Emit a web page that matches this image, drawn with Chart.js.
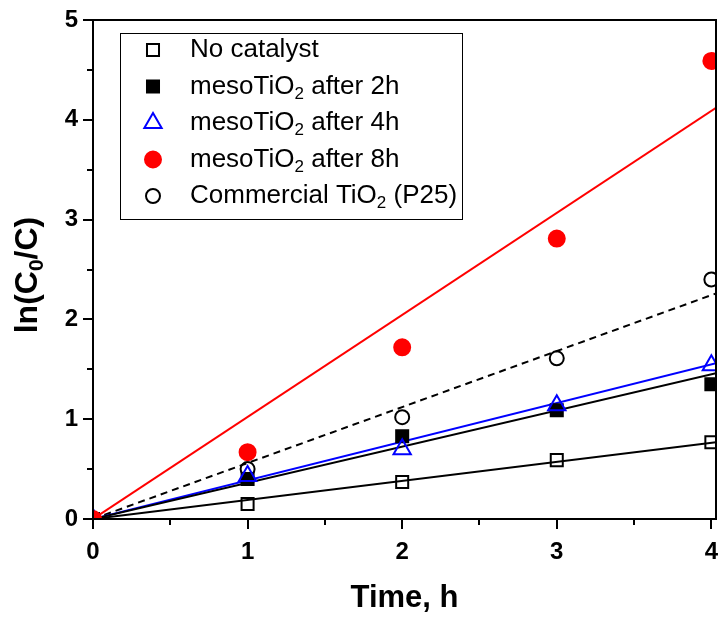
<!DOCTYPE html>
<html>
<head>
<meta charset="utf-8">
<script src="https://cdn.jsdelivr.net/npm/chart.js@4.4.1/dist/chart.umd.min.js"></script>
<style>
  html, body { margin: 0; padding: 0; background: #fff; }
  #wrap { width: 720px; height: 618px; }
</style>
</head>
<body>
<div id="wrap"><canvas id="kinetics" width="720" height="618"></canvas></div>
<script>
// measured ln(C0/C) versus irradiation time
const times = [0, 1, 2, 3, 4];
const noCatalyst = [0, 0.15, 0.37, 0.59, 0.77];
const meso2h = [0, 0.40, 0.83, 1.09, 1.35];
const meso4h = [0, 0.43, 0.70, 1.14, 1.54];
const meso8h = [0, 0.67, 1.72, 2.81, 4.59];
const p25 = [0, 0.50, 1.02, 1.61, 2.40];

// linear fits through the origin, value read at the right frame
const fitX = [0, 4.03];
const fitNoCatalyst = [0, 0.77];
const fitMeso2h = [0, 1.46];
const fitMeso4h = [0, 1.56];
const fitMeso8h = [0, 4.12];
const fitP25 = [0, 2.26];

const xTicks = [0, 1, 2, 3, 4];
const yTicks = [0, 1, 2, 3, 4, 5];

const legendLabels = ['No catalyst', 'mesoTiO_2 after 2h', 'mesoTiO_2 after 4h',
                      'mesoTiO_2 after 8h', 'Commercial TiO_2 (P25)'];

const FONT = '"Liberation Sans", Arial, sans-serif';

const pts = (xs, ys) => xs.map((x, i) => ({ x: x, y: ys[i] }));

function markerSet(label, ys, style, radius, color, filled, order) {
    return {
        label: label,
        data: pts(times, ys),
        showLine: false,
        pointStyle: style,
        pointRadius: radius,
        pointHoverRadius: radius,
        pointBorderWidth: 2,
        borderColor: color,
        pointBorderColor: color,
        pointBackgroundColor: filled ? color : 'rgba(0,0,0,0)',
        backgroundColor: filled ? color : 'rgba(0,0,0,0)',
        clip: 0,
        order: order
    };
}

function fitSet(ys, color, dash) {
    return {
        label: '',
        data: pts(fitX, ys),
        showLine: true,
        borderColor: color,
        borderWidth: 2,
        borderDash: dash || [],
        pointRadius: 0,
        pointHoverRadius: 0,
        clip: 0,
        order: 10
    };
}

const markerSets = [
    markerSet(legendLabels[0], noCatalyst, 'rect', 8.5, '#000', false, 5),
    markerSet(legendLabels[1], meso2h, 'rect', 8.5, '#000', true, 4),
    markerSet(legendLabels[2], meso4h, 'triangle', 10, '#0000ff', false, 2),
    markerSet(legendLabels[3], meso8h, 'circle', 8, '#ff0000', true, 1),
    markerSet(legendLabels[4], p25, 'circle', 7, '#000', false, 3)
];

// draws text where "_x" means subscript x
function richText(ctx, text, x, y, size, bold) {
    const parts = text.split(/_(\w)/);
    let cx = x;
    parts.forEach((p, i) => {
        const sub = i % 2 === 1;
        ctx.font = (bold ? 'bold ' : '') + (sub ? Math.round(size * 0.66) : size) + 'px ' + FONT;
        ctx.fillText(p, cx, sub ? y + size * 0.3 : y);
        cx += ctx.measureText(p).width;
    });
    return cx - x;
}

function richWidth(ctx, text, size, bold) {
    const parts = text.split(/_(\w)/);
    let w = 0;
    parts.forEach((p, i) => {
        const sub = i % 2 === 1;
        ctx.font = (bold ? 'bold ' : '') + (sub ? Math.round(size * 0.66) : size) + 'px ' + FONT;
        w += ctx.measureText(p).width;
    });
    return w;
}

const decor = {
    id: 'decor',
    afterDraw(chart) {
        const ctx = chart.ctx;
        const a = chart.chartArea;
        const xs = chart.scales.x, ys = chart.scales.y;
        ctx.save();
        ctx.strokeStyle = '#000';
        ctx.fillStyle = '#000';
        ctx.lineWidth = 2;
        ctx.strokeRect(a.left, a.top, a.right - a.left, a.bottom - a.top);

        // tick marks, outward, minor at halves
        ctx.beginPath();
        for (let v = 0; v <= 4.001; v += 0.5) {
            const px = Math.round(xs.getPixelForValue(v));
            const len = Number.isInteger(v) ? 10 : 6;
            ctx.moveTo(px, a.bottom);
            ctx.lineTo(px, a.bottom + len);
        }
        for (let v = 0; v <= 5.001; v += 0.5) {
            const py = Math.round(ys.getPixelForValue(v));
            const len = Number.isInteger(v) ? 10 : 6;
            ctx.moveTo(a.left, py);
            ctx.lineTo(a.left - len, py);
        }
        ctx.stroke();

        // axis titles
        ctx.textBaseline = 'middle';
        ctx.textAlign = 'center';
        ctx.font = 'bold 31px ' + FONT;
        ctx.fillText('Time, h', (a.left + a.right) / 2, 598);

        ctx.save();
        ctx.translate(28, 275);
        ctx.rotate(-Math.PI / 2);
        ctx.textAlign = 'left';
        const tw = richWidth(ctx, 'ln(C_0/C)', 32, true);
        richText(ctx, 'ln(C_0/C)', -tw / 2, 0, 32, true);
        ctx.restore();

        // legend box
        ctx.lineWidth = 1;
        ctx.strokeStyle = '#000';
        ctx.fillStyle = '#fff';
        ctx.fillRect(120.5, 33.5, 342, 186);
        ctx.strokeRect(120.5, 33.5, 342, 186);
        markerSets.forEach((ds, i) => {
            const yy = 50 + i * 36.5;
            ctx.lineWidth = 2;
            ctx.strokeStyle = ds.pointBorderColor;
            ctx.fillStyle = ds.pointBackgroundColor;
            Chart.helpers.drawPoint(ctx, {
                pointStyle: ds.pointStyle,
                radius: ds.pointRadius,
                borderWidth: 2,
                rotation: 0
            }, 153, yy);
            ctx.fillStyle = '#000';
            ctx.textAlign = 'left';
            ctx.textBaseline = 'middle';
            richText(ctx, ds.label, 190, yy, 26, false);
        });
        ctx.restore();
    }
};

new Chart(document.getElementById('kinetics'), {
    type: 'scatter',
    data: {
        datasets: markerSets.concat([
            fitSet(fitNoCatalyst, '#000'),
            fitSet(fitMeso2h, '#000'),
            fitSet(fitMeso4h, '#0000ff'),
            fitSet(fitMeso8h, '#ff0000'),
            fitSet(fitP25, '#000', [7, 5])
        ])
    },
    options: {
        responsive: false,
        animation: false,
        events: [],
        layout: { autoPadding: false, padding: { top: 20, right: 4, left: 0, bottom: 0 } },
        plugins: { legend: { display: false }, tooltip: { enabled: false } },
        scales: {
            x: {
                type: 'linear',
                min: 0,
                max: 4.03,
                afterFit(s) { s.height = 99; s.paddingLeft = 0; s.paddingRight = 0; },
                afterBuildTicks(s) { s.ticks = xTicks.map(v => ({ value: v })); },
                grid: { display: false, drawTicks: false },
                border: { display: false },
                ticks: {
                    color: '#000',
                    padding: 19,
                    maxRotation: 0,
                    font: { family: FONT, size: 24, weight: 'bold' }
                }
            },
            y: {
                type: 'linear',
                min: 0,
                max: 5,
                afterFit(s) { s.width = 93; s.paddingTop = 0; s.paddingBottom = 0; },
                afterBuildTicks(s) { s.ticks = yTicks.map(v => ({ value: v })); },
                grid: { display: false, drawTicks: false },
                border: { display: false },
                ticks: {
                    color: '#000',
                    padding: 15,
                    font: { family: FONT, size: 24, weight: 'bold' }
                }
            }
        }
    },
    plugins: [decor]
});
</script>
</body>
</html>
